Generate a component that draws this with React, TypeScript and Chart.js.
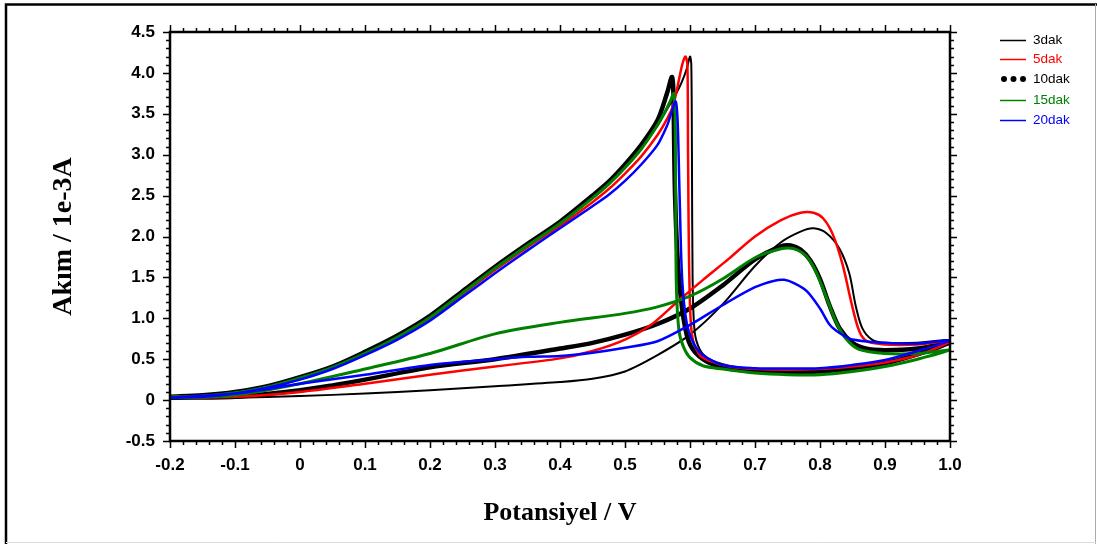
import React, { useEffect, useRef } from "react";
import { Chart, registerables } from "chart.js";

Chart.register(...registerables);

// ---- labels / ticks ----
const seriesNames = ["3dak", "5dak", "10dak", "15dak", "20dak"];
const seriesColors = ["#000000", "#ff0000", "#000000", "#008000", "#0000ff"];
const xTickValues = [-0.2, -0.1, 0, 0.1, 0.2, 0.3, 0.4, 0.5, 0.6, 0.7, 0.8, 0.9, 1.0];
const yTickValues = [-0.5, 0, 0.5, 1.0, 1.5, 2.0, 2.5, 3.0, 3.5, 4.0, 4.5];
const xTitle = "Potansiyel / V";
const yTitle = "Akım / 1e-3A";

// ---- 3dak (thin black) ----
const potential3 = [
  -0.2, -0.1, 0.0, 0.1, 0.2, 0.3, 0.4, 0.45, 0.5, 0.55, 0.6, 0.65, 0.7, 0.74, 0.77, 0.79, 0.81, 0.83, 0.845, 0.855, 0.865, 0.88, 0.9, 0.95, 1.0,
  0.95, 0.9, 0.85, 0.8, 0.75, 0.7, 0.66, 0.63, 0.615, 0.607, 0.604, 0.603, 0.602, 0.6, 0.595, 0.587, 0.577, 0.565, 0.55, 0.525, 0.5, 0.475, 0.45, 0.4, 0.35, 0.3, 0.25, 0.2, 0.15, 0.1, 0.05, 0.0, -0.05, -0.1, -0.15, -0.2,
];
const current3 = [
  0.02, 0.03, 0.05, 0.08, 0.12, 0.17, 0.22, 0.26, 0.35, 0.55, 0.8, 1.17, 1.64, 1.93, 2.06, 2.1, 2.04, 1.85, 1.55, 1.15, 0.88, 0.74, 0.7, 0.7, 0.73,
  0.55, 0.47, 0.41, 0.38, 0.37, 0.38, 0.42, 0.5, 0.62, 0.85, 1.5, 3.0, 4.1, 4.2, 4.05, 3.88, 3.72, 3.56, 3.36, 3.08, 2.84, 2.64, 2.47, 2.16, 1.89, 1.61, 1.31, 1.01, 0.77, 0.57, 0.4, 0.27, 0.16, 0.09, 0.05, 0.04,
];

// ---- 5dak (red) ----
const potential5 = [
  -0.2, -0.1, 0.0, 0.1, 0.2, 0.3, 0.4, 0.45, 0.5, 0.54, 0.58, 0.62, 0.66, 0.7, 0.74, 0.77, 0.79, 0.805, 0.82, 0.835, 0.848, 0.86, 0.872, 0.9, 0.95, 1.0,
  0.95, 0.9, 0.85, 0.8, 0.75, 0.7, 0.66, 0.63, 0.615, 0.603, 0.599, 0.597, 0.596, 0.593, 0.588, 0.58, 0.574, 0.565, 0.55, 0.525, 0.5, 0.475, 0.45, 0.4, 0.35, 0.3, 0.25, 0.2, 0.15, 0.1, 0.05, 0.0, -0.05, -0.1, -0.15, -0.2,
];
const current5 = [
  0.03, 0.04, 0.1, 0.2, 0.31, 0.41, 0.51, 0.6, 0.74, 0.92, 1.2, 1.47, 1.73, 2.0, 2.2, 2.29, 2.29, 2.22, 2.02, 1.65, 1.2, 0.85, 0.72, 0.68, 0.68, 0.72,
  0.55, 0.46, 0.41, 0.38, 0.37, 0.38, 0.41, 0.48, 0.55, 0.8, 1.5, 3.0, 4.1, 4.2, 4.1, 3.8, 3.6, 3.44, 3.24, 2.98, 2.77, 2.58, 2.42, 2.13, 1.87, 1.59, 1.29, 0.99, 0.75, 0.56, 0.39, 0.26, 0.15, 0.08, 0.05, 0.04,
];

// ---- 10dak (thick black) ----
const potential10 = [
  -0.2, -0.1, 0.0, 0.05, 0.1, 0.2, 0.3, 0.4, 0.45, 0.5, 0.55, 0.6, 0.65, 0.7, 0.74, 0.755, 0.77, 0.785, 0.8, 0.815, 0.83, 0.85, 0.87, 0.9, 0.95, 1.0,
  0.95, 0.9, 0.85, 0.8, 0.75, 0.7, 0.65, 0.62, 0.6, 0.59, 0.582, 0.577, 0.575, 0.574, 0.572, 0.565, 0.55, 0.525, 0.5, 0.475, 0.45, 0.4, 0.35, 0.3, 0.25, 0.2, 0.15, 0.1, 0.05, 0.0, -0.05, -0.1, -0.15, -0.2,
];
const current10 = [
  0.03, 0.04, 0.12, 0.18, 0.25, 0.4, 0.5, 0.63, 0.7, 0.8, 0.93, 1.12, 1.4, 1.72, 1.88, 1.89, 1.84, 1.71, 1.48, 1.15, 0.88, 0.7, 0.63, 0.61, 0.63, 0.7,
  0.56, 0.45, 0.39, 0.35, 0.34, 0.35, 0.4, 0.5, 0.68, 1.0, 1.6, 2.5, 3.5, 3.85, 3.95, 3.76, 3.42, 3.12, 2.88, 2.67, 2.5, 2.18, 1.91, 1.63, 1.33, 1.03, 0.79, 0.59, 0.41, 0.28, 0.17, 0.1, 0.06, 0.04,
];

// ---- 15dak (green) ----
const potential15 = [
  -0.2, -0.1, 0.0, 0.1, 0.2, 0.3, 0.4, 0.5, 0.55, 0.6, 0.65, 0.7, 0.74, 0.76, 0.78, 0.795, 0.81, 0.825, 0.84, 0.86, 0.9, 0.95, 1.0,
  0.95, 0.9, 0.85, 0.8, 0.75, 0.7, 0.65, 0.62, 0.6, 0.59, 0.583, 0.579, 0.578, 0.577, 0.575, 0.57, 0.56, 0.55, 0.525, 0.5, 0.475, 0.45, 0.4, 0.35, 0.3, 0.25, 0.2, 0.15, 0.1, 0.05, 0.0, -0.05, -0.1, -0.15, -0.2,
];
const current15 = [
  0.03, 0.06, 0.2, 0.38, 0.57, 0.81, 0.95, 1.06, 1.14, 1.27, 1.48, 1.74, 1.85, 1.85, 1.75, 1.55, 1.25, 0.95, 0.75, 0.62, 0.57, 0.57, 0.61,
  0.5, 0.41, 0.35, 0.31, 0.31, 0.33, 0.38, 0.42, 0.52, 0.65, 0.85, 1.4, 2.5, 3.5, 3.75, 3.66, 3.5, 3.36, 3.07, 2.84, 2.64, 2.47, 2.16, 1.89, 1.61, 1.31, 1.01, 0.77, 0.57, 0.4, 0.27, 0.16, 0.09, 0.05, 0.04,
];

// ---- 20dak (blue) ----
const potential20 = [
  -0.2, -0.1, 0.0, 0.1, 0.2, 0.3, 0.35, 0.4, 0.45, 0.5, 0.55, 0.6, 0.65, 0.7, 0.73, 0.745, 0.76, 0.78, 0.8, 0.815, 0.83, 0.85, 0.9, 0.95, 1.0,
  0.95, 0.9, 0.85, 0.8, 0.75, 0.7, 0.65, 0.62, 0.605, 0.595, 0.588, 0.584, 0.581, 0.578, 0.57, 0.565, 0.55, 0.525, 0.5, 0.475, 0.45, 0.4, 0.35, 0.3, 0.25, 0.2, 0.15, 0.1, 0.05, 0.0, -0.05, -0.1, -0.15, -0.2,
];
const current20 = [
  0.03, 0.08, 0.2, 0.31, 0.43, 0.5, 0.53, 0.54, 0.58, 0.64, 0.72, 0.92, 1.16, 1.38, 1.46, 1.47, 1.43, 1.33, 1.12, 0.92, 0.82, 0.74, 0.7, 0.69, 0.73,
  0.6, 0.49, 0.43, 0.39, 0.385, 0.39, 0.43, 0.55, 0.7, 0.94, 1.47, 2.5, 3.4, 3.65, 3.48, 3.36, 3.12, 2.88, 2.68, 2.51, 2.37, 2.1, 1.83, 1.55, 1.26, 0.97, 0.74, 0.55, 0.38, 0.25, 0.15, 0.08, 0.04, 0.03,
];

const seriesPotentials = [potential3, potential5, potential10, potential15, potential20];
const seriesCurrents = [current3, current5, current10, current15, current20];
const seriesWidths = [2, 2.5, 4.5, 3, 2.5];
const seriesOrder = [5, 3, 4, 2, 1];

const fmt = (v: number) => (Math.abs(v) < 1e-9 ? "0" : v.toFixed(1));

const framePlugin = {
  id: "framePlugin",
  afterDraw(chart: any) {
    const { ctx, chartArea } = chart;
    const { left, right, top, bottom } = chartArea;
    const xs = chart.scales.x;
    const ys = chart.scales.y;
    ctx.save();
    // outer picture frame
    ctx.strokeStyle = "#000";
    ctx.lineWidth = 2.5;
    ctx.beginPath();
    ctx.moveTo(6, 544);
    ctx.lineTo(6, 4.5);
    ctx.lineTo(1097, 4.5);
    ctx.stroke();
    ctx.strokeStyle = "#aaaaaa";
    ctx.lineWidth = 1;
    ctx.beginPath();
    ctx.moveTo(1095.5, 4);
    ctx.lineTo(1095.5, 544);
    ctx.stroke();
    ctx.strokeStyle = "#dddddd";
    ctx.beginPath();
    ctx.moveTo(6, 542.5);
    ctx.lineTo(1096, 542.5);
    ctx.stroke();

    // plot frame
    ctx.strokeStyle = "#000";
    ctx.lineWidth = 2.5;
    ctx.strokeRect(left, top, right - left, bottom - top);

    // ticks
    ctx.lineWidth = 1.5;
    ctx.beginPath();
    for (let i = 0; i <= 60; i++) {
      const v = -0.2 + i * 0.02;
      const px = Math.round(xs.getPixelForValue(v)) + 0.5;
      const major = i % 5 === 0;
      const len = major ? 7 : 4;
      ctx.moveTo(px, bottom);
      ctx.lineTo(px, bottom + len);
      ctx.moveTo(px, top);
      ctx.lineTo(px, top - len);
    }
    for (let i = 0; i <= 50; i++) {
      const v = -0.5 + i * 0.1;
      const py = Math.round(ys.getPixelForValue(v)) + 0.5;
      const major = i % 5 === 0;
      const len = major ? 7 : 4;
      ctx.moveTo(left, py);
      ctx.lineTo(left - len, py);
      ctx.moveTo(right, py);
      ctx.lineTo(right + len, py);
    }
    ctx.stroke();

    // legend
    const lx0 = 1000;
    const lx1 = 1026;
    const rowY = [40, 59, 79, 100, 120];
    ctx.font = "13.5px 'Liberation Sans', Arial, sans-serif";
    ctx.textBaseline = "middle";
    ctx.textAlign = "left";
    seriesNames.forEach((name, i) => {
      const y = rowY[i];
      ctx.strokeStyle = seriesColors[i];
      ctx.fillStyle = seriesColors[i];
      if (i === 2) {
        [1004, 1013.5, 1023].forEach((cx) => {
          ctx.beginPath();
          ctx.arc(cx, y, 3, 0, Math.PI * 2);
          ctx.fill();
        });
      } else {
        ctx.lineWidth = 1.5;
        ctx.beginPath();
        ctx.moveTo(lx0, y + 0.5);
        ctx.lineTo(lx1, y + 0.5);
        ctx.stroke();
      }
      ctx.fillText(name, 1033, y);
    });
    ctx.restore();
  },
};

export default function App() {
  const canvasRef = useRef<HTMLCanvasElement | null>(null);

  useEffect(() => {
    document.body.style.margin = "0";
    const canvas = canvasRef.current;
    if (!canvas) return;
    const datasets = seriesNames.map((name, i) => ({
      label: name,
      data: seriesPotentials[i].map((x, j) => ({ x, y: seriesCurrents[i][j] })),
      showLine: true,
      borderColor: seriesColors[i],
      backgroundColor: seriesColors[i],
      borderWidth: seriesWidths[i],
      borderJoinStyle: "round" as const,
      pointRadius: 0,
      pointHoverRadius: 0,
      tension: 0.3,
      fill: false,
      order: seriesOrder[i],
    }));
    const tickFont = { family: "'Liberation Sans', Arial, sans-serif", size: 17, weight: "bold" as const };
    const chart = new Chart(canvas, {
      type: "scatter",
      data: { datasets },
      plugins: [framePlugin],
      options: {
        animation: false,
        responsive: false,
        devicePixelRatio: 1,
        layout: { padding: { left: 0, top: 32, right: 147, bottom: 0 } },
        plugins: { legend: { display: false }, tooltip: { enabled: false } },
        scales: {
          x: {
            type: "linear",
            min: -0.2,
            max: 1.0,
            afterBuildTicks: (s: any) => {
              s.ticks = xTickValues.map((v) => ({ value: v }));
            },
            afterFit: (s: any) => {
              s.height = 103;
            },
            grid: { display: false, drawTicks: false },
            border: { display: false },
            ticks: { font: tickFont, color: "#000", padding: 14, maxRotation: 0, autoSkip: false, callback: (v: any) => fmt(Number(v)) },
            title: {
              display: true,
              text: xTitle,
              color: "#000",
              font: { family: "'Liberation Serif', 'Times New Roman', serif", size: 26, weight: "bold" },
              padding: { top: 0, bottom: 15 },
            },
          },
          y: {
            type: "linear",
            min: -0.5,
            max: 4.5,
            afterBuildTicks: (s: any) => {
              s.ticks = yTickValues.map((v) => ({ value: v }));
            },
            afterFit: (s: any) => {
              s.width = 170;
            },
            grid: { display: false, drawTicks: false },
            border: { display: false },
            ticks: { font: tickFont, color: "#000", padding: 15, autoSkip: false, callback: (v: any) => fmt(Number(v)) },
            title: {
              display: true,
              text: yTitle,
              color: "#000",
              font: { family: "'Liberation Serif', 'Times New Roman', serif", size: 28, weight: "bold" },
              padding: { top: 47, bottom: 0 },
            },
          },
        },
      },
    });
    return () => chart.destroy();
  }, []);

  return (
    <div style={{ width: 1097, height: 544, background: "#fff" }}>
      <canvas ref={canvasRef} width={1097} height={544} style={{ display: "block", width: 1097, height: 544 }} />
    </div>
  );
}
